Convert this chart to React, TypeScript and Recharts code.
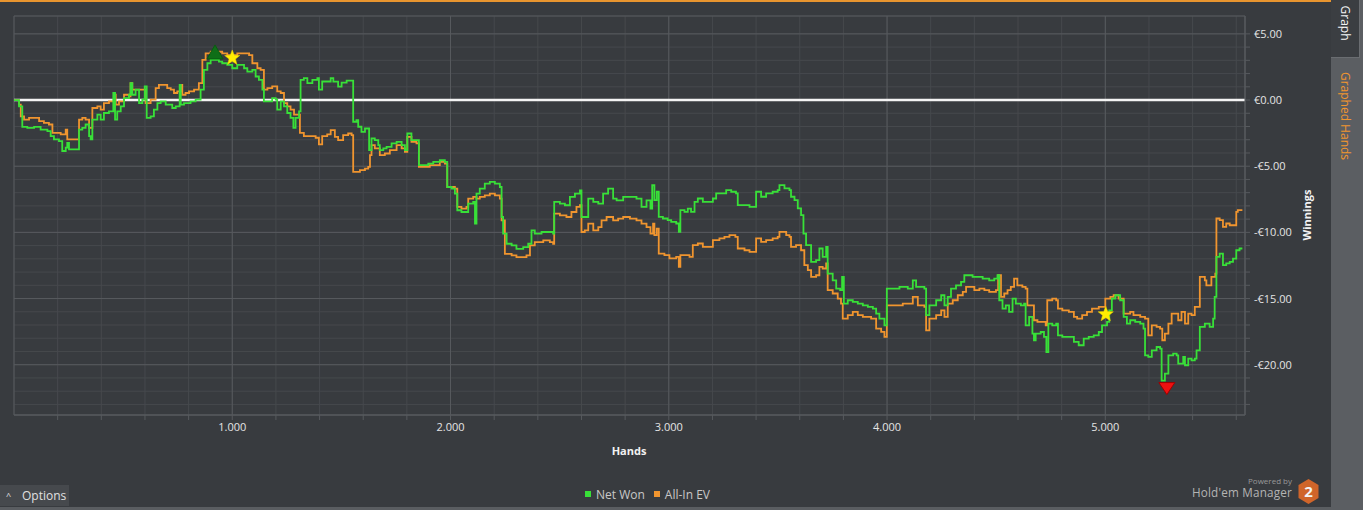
import React from 'react';
import {
  LineChart,
  Line,
  XAxis,
  YAxis,
  CartesianGrid,
  ReferenceLine,
  ReferenceDot,
  ReferenceArea,
} from 'recharts';

// ---------- data ----------
const netWon: [number, number][] = [
  [0, 0], [23, -0.48], [38, -2.03], [61, -2.1], [92, -2.03], [122, -2.23], [153, -2.35], [168, -2.73], [183, -2.98], [206, -3.1],
  [221, -3.85], [237, -3.6], [244, -3.23], [252, -3.73], [290, -3.73], [298, -2.23], [313, -2.1], [328, -1.85], [344, -2.73], [351, -2.98],
  [359, -1.48], [382, -1.1], [397, -1.48], [412, -0.98], [435, -0.85], [455, 0.53], [463, -1.48], [473, -0.85], [489, -0.48], [504, 0.15],
  [527, 0.4], [534, 1.28], [542, 0.4], [557, 0.78], [573, -0.23], [588, 0.03], [599, 1.03], [608, -1.35], [626, -1.23], [641, -0.73],
  [657, -0.23], [672, -0.1], [695, -0.35], [725, -0.6], [741, -0.48], [759, 1.15], [764, -0.35], [779, -0.23], [809, -0.1], [832, 0.03],
  [855, 0.78], [870, 2.28], [886, 2.78], [901, 3.03], [939, 2.9], [954, 2.78], [977, 2.65], [1000, 2.4], [1023, 2.65], [1054, 2.4],
  [1069, 2.15], [1092, 2.28], [1107, 1.78], [1122, 1.53], [1138, 0.78], [1145, -0.1], [1168, -0.1], [1183, 0.15], [1199, 0.03], [1206, -0.73],
  [1222, -0.1], [1237, -0.48], [1252, -0.98], [1267, -1.35], [1280, -2.1], [1290, -1.35], [1306, -0.85], [1313, 1.53], [1328, 1.65], [1344, 1.28],
  [1367, 1.53], [1390, 1.65], [1397, 0.78], [1412, 1.4], [1435, 1.4], [1451, 1.65], [1463, 1.39], [1485, 1.01], [1501, 1.31], [1524, 1.46],
  [1547, 1.46], [1554, -1.64], [1569, -1.52], [1577, -2.02], [1592, -2.4], [1608, -2.15], [1623, -2.15], [1627, -3.79], [1638, -2.9], [1653, -3.03],
  [1669, -3.41], [1676, -3.79], [1692, -3.66], [1707, -3.54], [1730, -3.28], [1753, -3.16], [1776, -3.41], [1791, -3.79], [1802, -2.53], [1821, -3.03],
  [1844, -3.03], [1855, -4.92], [1875, -4.92], [1898, -4.8], [1921, -4.67], [1951, -4.55], [1974, -4.67], [1985, -6.57], [2005, -6.69], [2020, -7.07],
  [2031, -8.33], [2050, -8.46], [2073, -8.46], [2081, -7.83], [2104, -7.7], [2112, -9.34], [2119, -7.07], [2134, -6.69], [2157, -6.31], [2180, -6.19],
  [2203, -6.31], [2226, -6.57], [2234, -8.84], [2241, -10.1], [2257, -10.86], [2280, -10.98], [2302, -11.24], [2333, -11.11], [2356, -10.86], [2371, -9.85],
  [2386, -10.1], [2417, -9.97], [2447, -9.97], [2470, -10.1], [2475, -7.7], [2501, -7.83], [2524, -7.95], [2547, -7.32], [2570, -7.07], [2593, -6.82],
  [2600, -8.84], [2615, -8.84], [2631, -7.45], [2654, -7.7], [2677, -7.83], [2699, -7.07], [2722, -6.69], [2745, -7.45], [2761, -7.58], [2791, -7.32],
  [2822, -7.32], [2852, -7.45], [2875, -8.08], [2898, -7.58], [2916, -8.21], [2924, -6.44], [2934, -7.56], [2945, -6.93], [2954, -8.83], [2973, -8.95],
  [2995, -9.08], [3011, -9.2], [3034, -9.33], [3046, -9.96], [3053, -8.32], [3072, -8.45], [3087, -8.2], [3102, -8.45], [3118, -7.69], [3133, -7.44],
  [3156, -7.69], [3186, -7.69], [3202, -7.44], [3217, -7.06], [3240, -7.06], [3263, -6.81], [3286, -6.93], [3308, -7.06], [3316, -7.94], [3339, -7.94],
  [3370, -8.07], [3392, -8.07], [3400, -6.93], [3423, -7.31], [3446, -7.06], [3476, -6.93], [3499, -6.81], [3507, -6.43], [3530, -6.68], [3553, -6.81],
  [3560, -7.31], [3576, -7.56], [3591, -8.19], [3606, -8.7], [3617, -10.09], [3629, -10.97], [3652, -12.23], [3675, -12.1], [3690, -11.22], [3705, -11.85],
  [3721, -11.09], [3728, -13.11], [3751, -13.62], [3767, -14.25], [3785, -14.37], [3794, -13.36], [3802, -15.38], [3820, -15.13], [3843, -15.25], [3866, -15.38],
  [3889, -15.51], [3912, -15.63], [3935, -15.76], [3950, -16.14], [3965, -16.52], [3988, -17.02], [3999, -14.25], [4026, -14.25], [4057, -14.12], [4095, -14.25],
  [4118, -13.62], [4133, -14.12], [4171, -14.25], [4179, -16.26], [4194, -15.51], [4225, -15.13], [4248, -14.75], [4263, -15.51], [4278, -14.88], [4293, -14.25],
  [4316, -14.0], [4339, -13.74], [4354, -13.24], [4370, -13.24], [4392, -13.36], [4415, -13.36], [4438, -13.49], [4468, -13.62], [4491, -13.49], [4506, -13.24],
  [4514, -15.13], [4529, -15.76], [4544, -15.51], [4559, -16.01], [4575, -15.0], [4590, -15.38], [4613, -15.51], [4628, -15.38], [4635, -17.02], [4651, -16.39],
  [4666, -17.65], [4673, -18.15], [4681, -17.65], [4704, -17.53], [4719, -17.9], [4730, -19.04], [4739, -16.89], [4757, -17.02], [4775, -16.89], [4783, -17.78],
  [4803, -17.9], [4833, -17.9], [4856, -18.28], [4878, -18.53], [4901, -18.03], [4924, -17.9], [4947, -17.78], [4970, -17.53], [4985, -17.02], [5008, -16.77],
  [5018, -15.89], [5030, -15.0], [5046, -14.75], [5068, -15.13], [5084, -16.39], [5099, -16.89], [5114, -16.64], [5137, -16.77], [5160, -16.89], [5175, -17.27],
  [5182, -19.29], [5197, -19.41], [5213, -18.91], [5235, -18.66], [5251, -18.78], [5258, -21.2], [5273, -20.68], [5289, -19.29], [5311, -19.16], [5327, -19.29],
  [5334, -19.92], [5357, -19.41], [5365, -20.04], [5380, -19.54], [5395, -19.67], [5410, -19.54], [5418, -18.91], [5433, -17.14], [5456, -16.89], [5478, -17.14],
  [5494, -16.51], [5501, -14.88], [5509, -11.85], [5524, -11.6], [5539, -12.48], [5554, -12.35], [5570, -12.23], [5585, -11.98], [5600, -11.35], [5615, -11.22],
  [5628, -11.22],
];

const allInEV: [number, number][] = [
  [0, 0], [23, -0.35], [31, -1.23], [46, -1.48], [69, -1.35], [92, -1.35], [115, -1.6], [137, -1.73], [160, -1.85], [176, -2.48],
  [191, -2.48], [214, -2.6], [237, -2.23], [244, -2.98], [290, -2.98], [298, -1.48], [313, -1.35], [328, -1.48], [344, -2.1], [359, -0.6],
  [382, -0.48], [397, -0.73], [412, -0.23], [435, -0.1], [458, 0.4], [466, -0.35], [481, -0.1], [504, 0.4], [527, 0.28], [534, 1.28],
  [542, 0.78], [588, 0.78], [603, -0.23], [626, 0.03], [649, 0.9], [664, 1.15], [687, 1.15], [702, 0.9], [718, 0.78], [733, 0.53],
  [748, 0.65], [764, 1.15], [771, 0.4], [786, 0.53], [802, 0.65], [825, 0.78], [847, 1.28], [863, 3.03], [878, 3.53], [901, 3.65],
  [924, 3.65], [954, 3.53], [977, 3.4], [1008, 3.4], [1023, 3.53], [1054, 3.53], [1077, 3.4], [1092, 2.78], [1115, 2.4], [1130, 2.28],
  [1145, 0.78], [1161, 0.9], [1183, 1.03], [1206, 0.65], [1222, 0.53], [1237, -0.23], [1252, -0.48], [1267, -0.73], [1283, -1.1], [1298, -1.1],
  [1310, -2.48], [1328, -2.73], [1359, -2.73], [1382, -2.85], [1397, -3.35], [1412, -2.73], [1435, -2.6], [1451, -2.27], [1470, -2.78], [1485, -3.03],
  [1508, -2.65], [1531, -2.53], [1547, -2.65], [1554, -5.43], [1585, -5.3], [1608, -5.18], [1623, -5.05], [1631, -4.17], [1638, -3.41], [1653, -3.66],
  [1676, -4.17], [1699, -4.04], [1722, -3.79], [1753, -3.41], [1776, -3.66], [1791, -3.91], [1802, -2.78], [1821, -3.16], [1844, -3.28], [1855, -5.05],
  [1875, -5.05], [1905, -4.92], [1951, -4.67], [1974, -4.8], [1985, -6.57], [2020, -6.69], [2031, -8.08], [2050, -8.21], [2073, -8.08], [2081, -7.45],
  [2104, -7.32], [2119, -7.45], [2134, -7.32], [2157, -7.2], [2180, -7.07], [2203, -7.2], [2226, -7.45], [2234, -9.09], [2249, -11.62], [2280, -11.74],
  [2302, -11.87], [2333, -11.87], [2348, -11.74], [2364, -10.98], [2386, -10.73], [2425, -10.61], [2455, -10.73], [2470, -10.86], [2475, -8.59], [2501, -8.71],
  [2531, -8.84], [2554, -8.46], [2577, -8.08], [2593, -7.95], [2600, -9.97], [2615, -9.85], [2631, -9.34], [2654, -9.85], [2677, -9.6], [2692, -9.09],
  [2715, -8.84], [2745, -9.09], [2768, -8.96], [2791, -8.84], [2822, -8.96], [2852, -9.09], [2875, -9.34], [2898, -9.6], [2916, -10.1], [2928, -9.34],
  [2934, -10.21], [2945, -9.71], [2954, -11.6], [2980, -11.72], [3003, -11.97], [3034, -11.85], [3046, -12.61], [3053, -11.72], [3072, -11.72], [3095, -11.85],
  [3110, -10.97], [3133, -10.84], [3156, -11.09], [3186, -11.09], [3202, -10.59], [3232, -10.46], [3255, -10.34], [3278, -10.21], [3305, -10.34], [3316, -11.22],
  [3347, -11.35], [3370, -11.47], [3392, -11.47], [3400, -10.46], [3423, -10.72], [3446, -10.59], [3476, -10.46], [3499, -10.34], [3507, -9.96], [3538, -10.21],
  [3553, -10.34], [3560, -11.09], [3583, -10.97], [3606, -11.35], [3621, -12.48], [3637, -12.86], [3652, -13.36], [3675, -13.24], [3690, -12.61], [3705, -12.73],
  [3721, -12.35], [3728, -14.37], [3751, -14.62], [3774, -15.0], [3789, -15.38], [3797, -16.52], [3820, -16.26], [3843, -16.01], [3866, -16.26], [3889, -16.39],
  [3927, -16.52], [3950, -17.27], [3973, -17.52], [3988, -17.9], [3999, -15.51], [4034, -15.51], [4072, -15.38], [4103, -15.38], [4118, -14.88], [4141, -15.51],
  [4171, -15.63], [4179, -17.4], [4194, -16.52], [4225, -16.26], [4248, -15.89], [4263, -16.39], [4278, -15.38], [4301, -15.13], [4324, -14.75], [4347, -14.5],
  [4362, -14.12], [4400, -14.37], [4423, -14.25], [4446, -14.37], [4468, -14.5], [4499, -14.37], [4509, -13.24], [4522, -14.88], [4537, -14.62], [4552, -14.37],
  [4567, -14.12], [4582, -13.49], [4597, -14.0], [4620, -14.12], [4635, -14.25], [4643, -15.51], [4658, -15.51], [4673, -16.64], [4689, -16.77], [4711, -16.77],
  [4727, -17.02], [4734, -15.13], [4757, -15.0], [4775, -15.13], [4783, -15.76], [4803, -15.89], [4833, -16.01], [4856, -16.39], [4871, -16.52], [4894, -16.26],
  [4916, -16.01], [4939, -15.76], [4970, -15.63], [5000, -15.0], [5023, -14.88], [5038, -14.75], [5061, -15.0], [5084, -16.14], [5099, -16.14], [5114, -16.01],
  [5129, -16.26], [5160, -16.39], [5182, -16.52], [5197, -17.78], [5213, -17.02], [5235, -17.14], [5251, -17.27], [5261, -18.15], [5273, -17.65], [5289, -16.89],
  [5304, -16.14], [5319, -16.14], [5334, -16.64], [5349, -16.01], [5365, -16.89], [5380, -16.14], [5395, -16.26], [5410, -15.63], [5425, -15.63], [5433, -13.36],
  [5456, -13.62], [5463, -14.0], [5486, -13.36], [5504, -13.11], [5509, -8.95], [5524, -9.08], [5539, -9.58], [5554, -9.33], [5570, -9.46], [5585, -9.46],
  [5600, -8.45], [5607, -8.32], [5628, -8.32],
];

const xTicks = [200, 400, 600, 800, 1000, 1200, 1400, 1600, 1800, 2000, 2200, 2400, 2600, 2800, 3000, 3200, 3400, 3600, 3800, 4000, 4200, 4400, 4600, 4800, 5000, 5200, 5400, 5600];
const xMajor = [1000, 2000, 3000, 4000, 5000];
const yTicks = [-23, -22, -21, -20, -19, -18, -17, -16, -15, -14, -13, -12, -11, -10, -9, -8, -7, -6, -5, -4, -3, -2, -1, 0, 1, 2, 3, 4, 5];
const yMajor = [5, -5, -10, -15, -20];
const xDomain = [0, 5640];
const yDomain = [-23.8, 6.35];

const maxPoint = { hands: 921, value: 3.03 };
const minPoint = { hands: 5282, value: -21.2 };
const starPoints = [
  { hands: 1000, value: 3.18 },
  { hands: 5002, value: -16.19 },
];

const seriesNames = ['Net Won', 'All-In EV'];

// ---------- styles ----------
const BG = '#383b3f';
const GRID = '#46494d';
const GRID_MAJOR = '#575a5e';
const GREEN = '#38e038';
const ORANGE = '#f0952f';
const FONT = '"Open Sans", "DejaVu Sans", sans-serif';

const netWonData = netWon.map(([h, v]) => ({ h, v }));
const allInData = allInEV.map(([h, v]) => ({ h, v }));

const fmtHands = (v: number) => (v % 1000 === 0 ? (v / 1000).toFixed(3) : '');
const fmtEur = (v: number) =>
  v % 5 === 0 ? `${v < 0 ? '-' : ''}€${Math.abs(v).toFixed(2)}` : '';

const XTick = (props: any) => {
  const { x, y, payload } = props;
  const label = fmtHands(payload.value);
  if (!label) return null;
  return (
    <text x={x} y={y} dy={9} textAnchor="middle" fill="#e4e4e4" fontSize={11} fontFamily={FONT}>
      {label}
    </text>
  );
};

const YTick = (props: any) => {
  const { x, y, payload } = props;
  const label = fmtEur(payload.value);
  if (!label) return null;
  return (
    <text x={x} y={y} dy={4} textAnchor="start" fill="#e4e4e4" fontSize={11} fontFamily={FONT}>
      {label}
    </text>
  );
};

const starPath = (cx: number, cy: number, ro: number, ri: number) => {
  const pts: string[] = [];
  for (let i = 0; i < 10; i++) {
    const r = i % 2 === 0 ? ro : ri;
    const a = -Math.PI / 2 + (i * Math.PI) / 5;
    pts.push(`${(cx + r * Math.cos(a)).toFixed(2)},${(cy + r * Math.sin(a)).toFixed(2)}`);
  }
  return `M${pts.join('L')}Z`;
};

const StarShape = (props: any) => {
  const { cx, cy } = props;
  return <path d={starPath(cx, cy, 8, 3.4)} fill="#ffee00" stroke="#e8d000" strokeWidth={0.5} />;
};

const UpTriangle = (props: any) => {
  const { cx, cy } = props;
  return (
    <path
      d={`M${cx - 8},${cy - 1} L${cx + 8},${cy - 1} L${cx},${cy - 15} Z`}
      fill="#0f6e17"
      stroke="#0a5a12"
      strokeWidth={1}
    />
  );
};

const DownTriangle = (props: any) => {
  const { cx, cy } = props;
  return (
    <path
      d={`M${cx - 8},${cy + 2} L${cx + 8},${cy + 2} L${cx},${cy + 14} Z`}
      fill="#ee1111"
      stroke="#a00000"
      strokeWidth={1}
    />
  );
};

export default function App() {
  return (
    <div
      style={{
        position: 'absolute',
        left: 0,
        top: 0,
        width: 1363,
        height: 510,
        background: BG,
        overflow: 'hidden',
        fontFamily: FONT,
      }}
    >
      {/* top orange line */}
      <div style={{ position: 'absolute', left: 0, top: 0, width: 1331, height: 2, background: '#e8952f' }} />

      <div style={{ position: 'absolute', left: 0, top: 0 }}>
        <LineChart
          width={1331}
          height={510}
          margin={{ top: 16, right: 16, bottom: 55, left: 14 }}
        >
          <CartesianGrid stroke={GRID} strokeWidth={1} />
          <XAxis
            type="number"
            dataKey="h"
            domain={xDomain}
            ticks={xTicks}
            interval={0}
            allowDataOverflow
            tick={<XTick />}
            tickSize={5}
            tickMargin={2}
            tickLine={{ stroke: GRID_MAJOR }}
            axisLine={{ stroke: GRID_MAJOR }}
            height={40}
          />
          <YAxis
            type="number"
            dataKey="v"
            orientation="right"
            domain={yDomain}
            ticks={yTicks}
            interval={0}
            allowDataOverflow
            tick={<YTick />}
            tickSize={5}
            tickMargin={4}
            tickLine={{ stroke: GRID_MAJOR }}
            axisLine={{ stroke: GRID_MAJOR }}
            width={70}
          />
          {xMajor.map((x) => (
            <ReferenceLine key={`vx${x}`} x={x} stroke={GRID_MAJOR} strokeWidth={1} />
          ))}
          {yMajor.map((y) => (
            <ReferenceLine key={`hy${y}`} y={y} stroke={GRID_MAJOR} strokeWidth={1} />
          ))}
          <ReferenceArea
            x1={xDomain[0]}
            x2={xDomain[1]}
            y1={yDomain[0]}
            y2={yDomain[1]}
            fill="none"
            fillOpacity={0}
            stroke={GRID_MAJOR}
            strokeWidth={1}
          />
          <ReferenceLine y={0} stroke="#f4f4f4" strokeWidth={2.5} />
          <Line
            data={allInData}
            dataKey="v"
            name={seriesNames[1]}
            type="stepAfter"
            stroke={ORANGE}
            strokeWidth={1.8}
            dot={false}
            isAnimationActive={false}
          />
          <Line
            data={netWonData}
            dataKey="v"
            name={seriesNames[0]}
            type="stepAfter"
            stroke={GREEN}
            strokeWidth={1.8}
            dot={false}
            isAnimationActive={false}
          />
          <ReferenceDot x={maxPoint.hands} y={maxPoint.value} r={0} shape={UpTriangle} ifOverflow="visible" />
          <ReferenceDot x={minPoint.hands} y={minPoint.value} r={0} shape={DownTriangle} ifOverflow="visible" />
          {starPoints.map((s, i) => (
            <ReferenceDot key={`st${i}`} x={s.hands} y={s.value} r={0} shape={StarShape} ifOverflow="visible" />
          ))}
        </LineChart>
      </div>

      {/* axis titles */}
      <div
        style={{
          position: 'absolute',
          left: 529,
          width: 200,
          top: 443,
          textAlign: 'center',
          color: '#f2f2f2',
          fontSize: 11,
          fontWeight: 700,
        }}
      >
        Hands
      </div>
      <div
        style={{
          position: 'absolute',
          left: 1307 - 40,
          top: 215 - 8,
          width: 80,
          height: 16,
          lineHeight: '16px',
          textAlign: 'center',
          color: '#f2f2f2',
          fontSize: 11,
          fontWeight: 700,
          transform: 'rotate(-90deg)',
        }}
      >
        Winnings
      </div>

      {/* legend */}
      <div
        style={{
          position: 'absolute',
          left: 585,
          top: 485,
          height: 18,
          display: 'flex',
          alignItems: 'center',
          color: '#c8c8c8',
          fontSize: 12,
          whiteSpace: 'nowrap',
        }}
      >
        <span style={{ width: 6, height: 6, background: GREEN, display: 'inline-block', marginRight: 5 }} />
        <span>{seriesNames[0]}</span>
        <span style={{ width: 6, height: 6, background: ORANGE, display: 'inline-block', marginLeft: 9, marginRight: 5 }} />
        <span>{seriesNames[1]}</span>
      </div>

      {/* options button */}
      <div
        style={{
          position: 'absolute',
          left: 0,
          top: 485,
          width: 69,
          height: 21,
          background: '#46494d',
          color: '#e0e0e0',
          fontSize: 12,
          lineHeight: '21px',
        }}
      >
        <span style={{ position: 'absolute', left: 6, top: 0, fontSize: 9 }}>^</span>
        <span style={{ position: 'absolute', left: 22, top: 0 }}>Options</span>
      </div>

      {/* bottom strip */}
      <div style={{ position: 'absolute', left: 0, top: 507, width: 1331, height: 3, background: '#5a5d61' }} />

      {/* powered by */}
      <div
        style={{
          position: 'absolute',
          left: 1180,
          top: 476,
          width: 112,
          height: 9,
          lineHeight: '9px',
          textAlign: 'right',
          color: '#999999',
          fontSize: 8,
        }}
      >
        Powered by
      </div>
      <div
        style={{
          position: 'absolute',
          left: 1160,
          top: 485,
          width: 132,
          height: 15,
          lineHeight: '15px',
          textAlign: 'right',
          color: '#b4b4b4',
          fontSize: 11.7,
          letterSpacing: 0.2,
        }}
      >
        Hold'em Manager
      </div>
      <svg style={{ position: 'absolute', left: 1297, top: 478 }} width={24} height={28}>
        <path d="M11.5,1 L21.5,7 L21.5,20 L11.5,26 L1.5,20 L1.5,7 Z" fill="#d0652a" />
        <text x={11.5} y={19} textAnchor="middle" fill="#f4f4f4" fontSize={15} fontWeight={700} fontFamily={FONT}>
          2
        </text>
      </svg>

      {/* right sidebar */}
      <div style={{ position: 'absolute', left: 1331, top: 0, width: 32, height: 510, background: '#5b5e62' }} />
      <div
        style={{
          position: 'absolute',
          left: 1331,
          top: 0,
          width: 28,
          height: 57,
          background: '#3b3e42',
          borderRight: '1px solid #6a6d71',
          borderBottom: '1px solid #6a6d71',
        }}
      />
      <div
        style={{
          position: 'absolute',
          left: 1345 - 30,
          top: 23 - 8,
          width: 60,
          height: 16,
          lineHeight: '16px',
          textAlign: 'center',
          color: '#f4f4f4',
          fontSize: 12,
          transform: 'rotate(90deg)',
        }}
      >
        Graph
      </div>
      <div
        style={{
          position: 'absolute',
          left: 1345 - 60,
          top: 116 - 8,
          width: 120,
          height: 16,
          lineHeight: '16px',
          textAlign: 'center',
          color: '#f0952f',
          fontSize: 12,
          transform: 'rotate(90deg)',
        }}
      >
        Graphed Hands
      </div>
    </div>
  );
}
